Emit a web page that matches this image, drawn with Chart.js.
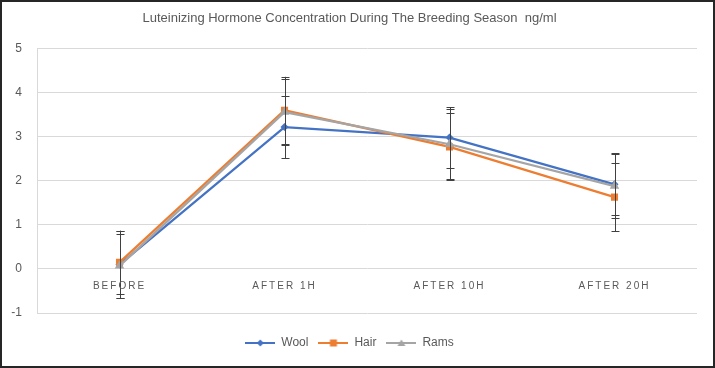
<!DOCTYPE html>
<html>
<head>
<meta charset="utf-8">
<script src="https://cdn.jsdelivr.net/npm/chart.js@4/dist/chart.umd.min.js"></script>
<style>
    body { margin: 0; background: #fff; }
    .frame { width: 715px; height: 368px; box-sizing: border-box; border: 2px solid #262626; background: #fff; }
    .box { position: relative; width: 711px; height: 364px; }
</style>
</head>
<body>
<div class="frame"><div class="box"><canvas id="chart"></canvas></div></div>
<script>
const categories = ['BEFORE', 'AFTER 1H', 'AFTER 10H', 'AFTER 20H'];
const woolValues = [0.10, 3.22, 2.98, 1.92];
const hairValues = [0.15, 3.60, 2.77, 1.63];
const ramsValues = [0.07, 3.56, 2.83, 1.88];
const woolErrors = [0.75, 0.71, 0.69, 0.70];
const hairErrors = [0.72, 0.76, 0.76, 0.78];
const ramsErrors = [0.73, 0.75, 0.80, 0.72];
const yTicks = [-1, 0, 1, 2, 3, 4, 5];

const grey = '#595959';

// small legend swatch: a line with the series marker in the middle
function swatch(color, shape) {
    const c = document.createElement('canvas');
    c.width = 30;
    c.height = 12;
    const g = c.getContext('2d');
    g.strokeStyle = color;
    g.fillStyle = color;
    g.lineWidth = 2;
    g.beginPath();
    g.moveTo(0, 6);
    g.lineTo(30, 6);
    g.stroke();
    g.beginPath();
    if (shape === 'diamond') {
        g.moveTo(15, 2.5); g.lineTo(18.5, 6); g.lineTo(15, 9.5); g.lineTo(11.5, 6);
    } else if (shape === 'square') {
        g.rect(11.5, 2.5, 7, 7);
    } else {
        g.moveTo(15, 2.5); g.lineTo(19, 9); g.lineTo(11, 9);
    }
    g.closePath();
    g.fill();
    return c;
}

const errorBars = {
    id: 'errorBars',
    afterDatasetsDraw(chart) {
        const ctx = chart.ctx;
        const x = chart.scales.x;
        const y = chart.scales.y;
        ctx.save();
        ctx.strokeStyle = '#404040';
        ctx.lineWidth = 1;
        chart.data.datasets.forEach(ds => {
            ds.values.forEach((v, i) => {
                const px = Math.round(x.getPixelForValue(i)) + 0.5;
                const top = y.getPixelForValue(v + ds.errors[i]);
                const bottom = y.getPixelForValue(v - ds.errors[i]);
                ctx.beginPath();
                ctx.moveTo(px, top);
                ctx.lineTo(px, bottom);
                ctx.moveTo(px - 4, Math.round(top) + 0.5);
                ctx.lineTo(px + 4, Math.round(top) + 0.5);
                ctx.moveTo(px - 4, Math.round(bottom) + 0.5);
                ctx.lineTo(px + 4, Math.round(bottom) + 0.5);
                ctx.stroke();
            });
        });
        ctx.restore();
        // x labels are drawn after this (z: 1), spaced out like the original
        ctx.letterSpacing = '2px';
    },
    afterDraw(chart) {
        chart.ctx.letterSpacing = '0px';
    }
};

const series = [
    { label: 'Wool', values: woolValues, errors: woolErrors, color: '#4472C4', style: 'rectRot', radius: 4, shape: 'diamond', order: 3 },
    { label: 'Hair', values: hairValues, errors: hairErrors, color: '#ED7D31', style: 'rect', radius: 5, shape: 'square', order: 2 },
    { label: 'Rams', values: ramsValues, errors: ramsErrors, color: '#A5A5A5', style: 'triangle', radius: 5.5, shape: 'triangle', order: 1 }
];

const ctx = document.getElementById('chart').getContext('2d');
new Chart(ctx, {
    type: 'line',
    data: {
        labels: categories,
        datasets: series.map(s => ({
            label: s.label,
            data: s.values,
            values: s.values,
            errors: s.errors,
            borderColor: s.color,
            backgroundColor: s.color,
            borderWidth: 2.25,
            pointStyle: s.style,
            pointRadius: s.radius,
            pointBorderWidth: 0,
            order: s.order,
            tension: 0,
            swatch: swatch(s.color, s.shape)
        }))
    },
    options: {
        responsive: true,
        maintainAspectRatio: false,
        animation: false,
        layout: { padding: { left: 0, right: 16, top: 0, bottom: 7 } },
        plugins: {
            title: {
                display: true,
                text: 'Luteinizing Hormone Concentration During The Breeding Season  ng/ml',
                color: grey,
                font: { family: 'Liberation Sans', size: 13, weight: 'normal', lineHeight: 1.2 },
                padding: { top: 9, bottom: 22 }
            },
            legend: {
                position: 'bottom',
                title: { display: true, text: '', font: { size: 1, lineHeight: 1 }, padding: { top: 0, bottom: 13 } },
                labels: {
                    usePointStyle: true,
                    pointStyleWidth: 30,
                    padding: 10,
                    color: grey,
                    font: { family: 'Liberation Sans', size: 12 },
                    generateLabels(chart) {
                        return chart.data.datasets.map((ds, i) => ({
                            text: ds.label,
                            pointStyle: ds.swatch,
                            fillStyle: ds.borderColor,
                            strokeStyle: ds.borderColor,
                            lineWidth: 0,
                            fontColor: grey,
                            datasetIndex: i,
                            hidden: false
                        }));
                    }
                }
            },
            tooltip: { enabled: false }
        },
        scales: {
            x: {
                type: 'category',
                position: { y: 0 },
                offset: true,
                grid: { display: false },
                border: { display: false },
                ticks: {
                    z: 1,
                    color: grey,
                    padding: 3,
                    maxRotation: 0,
                    font: { family: 'Liberation Sans', size: 10 }
                }
            },
            y: {
                min: -1,
                max: 5,
                afterFit(scale) { scale.width = 35; },
                afterBuildTicks(scale) { scale.ticks = yTicks.map(v => ({ value: v })); },
                grid: { color: '#d9d9d9', lineWidth: 1, drawTicks: false },
                border: { display: true, color: '#d9d9d9', width: 1 },
                ticks: {
                    color: grey,
                    padding: 15,
                    font: { family: 'Liberation Sans', size: 12 }
                }
            }
        }
    },
    plugins: [errorBars]
});
</script>
</body>
</html>
